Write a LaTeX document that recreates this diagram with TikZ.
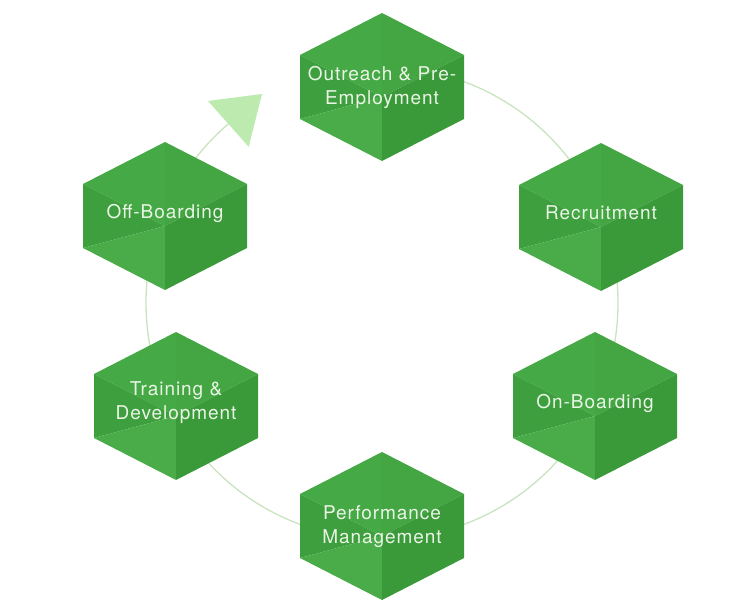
\documentclass[tikz,border=0pt]{standalone}
\usepackage{fontspec}
\newfontfamily\heros[LetterSpace=5]{TeX Gyre Heros}
\usetikzlibrary{positioning, calc, arrows.meta}

\definecolor{topleft}{HTML}{45A945}
\definecolor{topright}{HTML}{43A643}
\definecolor{leftwedge}{HTML}{3E9F3E}
\definecolor{leftlow}{HTML}{49AC49}
\definecolor{rightside}{HTML}{3A9A3A}
\definecolor{ringgreen}{HTML}{C9E3BF}
\definecolor{arrowgreen}{HTML}{BDEAAE}
\definecolor{labelgreen}{HTML}{EAF5E6}

\tikzset{
	pics/cube/.style={code={
		\fill[topleft] (0,-74) -- (-82,-32) -- (0,10) -- cycle;
		\fill[topright] (0,-74) -- (82,-32) -- (0,10) -- cycle;
		\fill[leftwedge] (-82,-32) -- (-82,32) -- (0,10) -- cycle;
		\fill[leftlow] (-82,32) -- (0,74) -- (0,10) -- cycle;
		\fill[rightside] (0,10) -- (82,-32) -- (82,32) -- (0,74) -- cycle;
	}},
	cubetext/.style={text=labelgreen, align=center, inner sep=0pt, font=\heros\fontsize{19}{24}\selectfont},
	ring/.style={draw=ringgreen, line width=1.3pt}
}

\begin{document}
\begin{tikzpicture}[x=1pt, y=-1pt]
					\useasboundingbox (0,0) rectangle (753,613);
					\coordinate (hub) at (382,303);
					\coordinate (tip) at (262,94);

					% Draw the ring first, the cubes cover it.
					\draw[ring, -{Triangle[width=61pt, length=45pt, color=arrowgreen]}] (hub) ++(270:236) arc[start angle=270, end angle=589.4, radius=236] -- (tip);

					% Draw the cubes.
					\pic at (382,87) {cube};
					\pic at (601,217) {cube};
					\pic at (595,406) {cube};
					\pic at (382,526) {cube};
					\pic at (176,406) {cube};
					\pic at (165,216) {cube};

					% Put the labels on them.
					\node[cubetext] (outreach) at (382,87) {Outreach \& Pre-\\Employment};
					\node[cubetext, anchor=base] (recruit) at (601,219) {Recruitment};
					\node[cubetext, anchor=base] (onboard) at (595,408) {On-Boarding};
					\node[cubetext] (perform) at (382,527) {Performance\\Management};
					\node[cubetext] (training) at (176,403) {Training \&\\Development};
					\node[cubetext, anchor=base] (offboard) at (165,218) {Off-Boarding};
				\end{tikzpicture}
\end{document}
